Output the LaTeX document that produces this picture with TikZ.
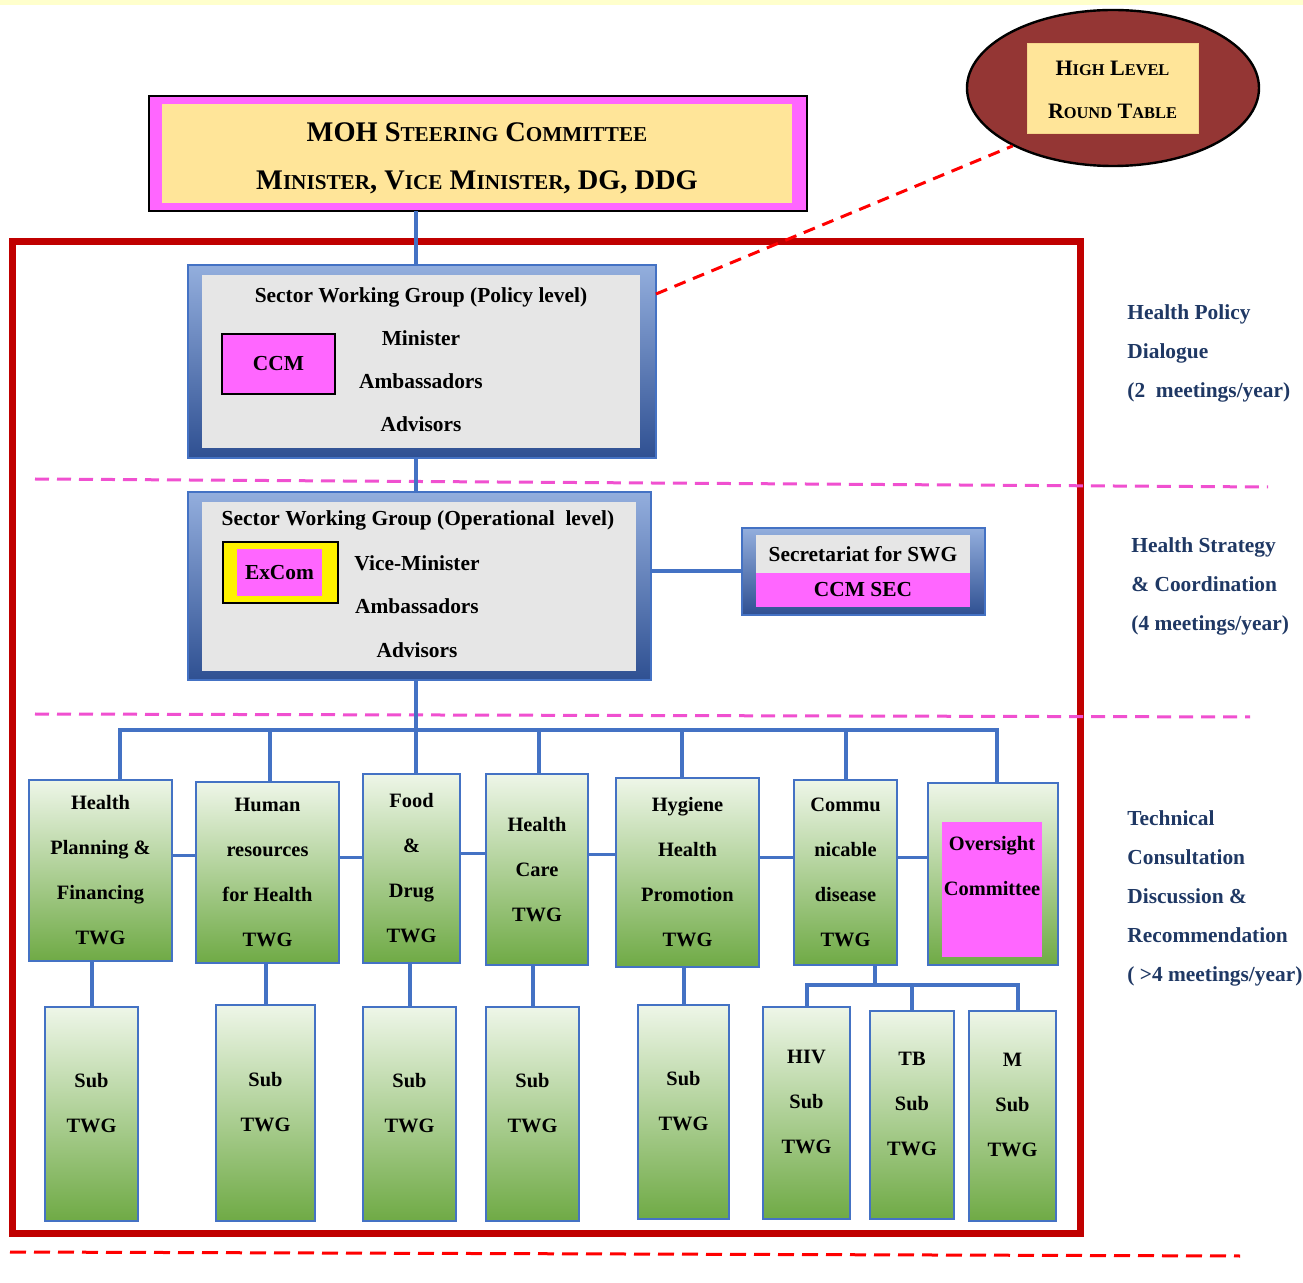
\documentclass[tikz,border=0pt]{standalone}
\usepackage{fontspec}
\setmainfont{Liberation Serif}
\usetikzlibrary{shapes.geometric}
\definecolor{bline}{HTML}{4472C4}
\definecolor{gtop}{HTML}{EEF6E8}
\definecolor{gbot}{HTML}{6FAA45}
\definecolor{swgtop}{HTML}{93AEDD}
\definecolor{swgbot}{HTML}{2F5092}
\definecolor{greyin}{HTML}{E6E6E6}
\definecolor{pinkf}{HTML}{FF66FF}
\definecolor{cream}{HTML}{FFE599}
\definecolor{maroon}{HTML}{943634}
\definecolor{redfr}{HTML}{C00000}
\definecolor{navy}{HTML}{1F3864}
\definecolor{magdash}{HTML}{F050D0}
\definecolor{strip}{HTML}{FFFFCC}
\newcommand{\boxfont}{\fontsize{10.7}{22.5}\selectfont\bfseries}
\newcommand{\twgfont}{\fontsize{10.2}{22.5}\selectfont\bfseries}
\newcommand{\fsc}[2]{#1{\fontsize{10.6}{11}\selectfont #2}}
\newcommand{\hsc}[2]{#1{\fontsize{8.2}{9}\selectfont #2}}

\begin{document}
\begin{tikzpicture}[x=0.5pt, y=-0.5pt,
    boxbase/.style ={inner sep=0pt, outer sep=0pt, anchor=north west},
    txt/.style ={inner sep=0pt, align=center, font=\boxfont},
    swgframe/.style ={boxbase, draw=bline, line width=0.8pt, top color=swgtop, bottom color=swgbot},
    swgin/.style ={boxbase, fill=greyin},
    twgbox/.style ={boxbase, draw=bline, line width=1.2pt, top color=gtop, bottom color=gbot, align=center, font=\twgfont},
    subbox/.style ={boxbase, draw=bline, line width=1.2pt, top color=gtop, bottom color=gbot},
    conn/.style ={bline, line width=2pt},
    sidetext/.style ={inner sep=0pt, anchor=west, align=left, text=navy, font=\fontsize{10.7}{19.5}\selectfont\bfseries}]
   \useasboundingbox (0,0) rectangle (1303,1283);
   \fill[strip] (0,0) rectangle (1303,5);
   \draw[redfr, line width=3.5pt] (12,242) rectangle (1080,1233);
   \draw[magdash, line width=1.5pt, dash pattern=on 7pt off 4pt] (35,479) -- (1268,487);
   \draw[magdash, line width=1.5pt, dash pattern=on 7pt off 4pt] (35,714) -- (1250,717);
   \draw[red, line width=1.5pt, dash pattern=on 8pt off 4pt] (10,1252) -- (1240,1256);

   \node[ellipse, draw=black, line width=1.2pt, fill=maroon, minimum width=146pt, minimum height=78pt, inner sep=0pt] (HL) at (1113,88) {};
   \node[boxbase, fill=cream, draw=cream!85!brown, minimum width=85.5pt, minimum height=45pt] (HLin) at (1027,43) {};
   \node[txt, font=\fontsize{11}{21.5}\selectfont\bfseries] (HLt) at ([yshift=-1pt]HLin.center) {\hsc{H}{IGH} \hsc{L}{EVEL}\\\hsc{R}{OUND} \hsc{T}{ABLE}};

   \node[boxbase, draw=black, line width=1pt, fill=pinkf, minimum width=329pt, minimum height=57.5pt] (M) at (149,96) {};
   \node[boxbase, fill=cream, minimum width=315pt, minimum height=49.5pt] (Min) at (162,104) {};
   \node[txt, font=\fontsize{14.2}{24}\selectfont\bfseries] (Mt) at ([yshift=-2.5pt]Min.center) {MOH \fsc{S}{TEERING} \fsc{C}{OMMITTEE}\\\fsc{M}{INISTER}, \fsc{V}{ICE} \fsc{M}{INISTER}, DG, DDG};

   \node[swgframe, minimum width=234pt, minimum height=96.5pt] (P) at (188,265) {};
   \node[swgin, minimum width=219pt, minimum height=86.5pt] (Pin) at (202,275) {};
   \node[txt] (Pt) at (421,297) {Sector Working Group (Policy level)};
   \node[boxbase, draw=black, line width=0.8pt, fill=pinkf, minimum width=56.5pt, minimum height=30pt, font=\boxfont] (CCM) at (222,334) {CCM};
   \node[txt, font=\fontsize{10.7}{21.5}\selectfont\bfseries] (Pm) at (421,381) {Minister\\Ambassadors\\Advisors};

   \node[swgframe, minimum width=231.5pt, minimum height=94pt] (O) at (188,492) {};
   \node[swgin, minimum width=217pt, minimum height=84.5pt] (Oin) at (202,502) {};
   \node[txt] (Ot) at (418,520) {Sector Working Group (Operational\ \ level)};
   \node[boxbase, draw=black, line width=0.8pt, fill=yellow, minimum width=57.5pt, minimum height=30.5pt] (EX) at (223,542) {};
   \node[boxbase, fill=pinkf, minimum width=42.5pt, minimum height=23.5pt] (EXin) at (237,549) {};
   \node[txt] (EXt) at (EXin.center) {ExCom};
   \node[txt, font=\fontsize{10.7}{21.75}\selectfont\bfseries] (Om) at (417,606.5) {Vice-Minister\\Ambassadors\\Advisors};

   \node[swgframe, minimum width=121.5pt, minimum height=43.5pt] (SEC) at (742,528) {};
   \node[boxbase, fill=greyin, minimum width=107pt, minimum height=19pt, font=\boxfont] (SECa) at (756,535) {Secretariat for SWG};
   \node[boxbase, fill=pinkf, minimum width=107pt, minimum height=17pt, font=\boxfont] (SECb) at (756,573) {CCM SEC};

   \node[twgbox, minimum width=71.5pt, minimum height=90.5pt] (T1) at (29,780) {Health\\Planning \&\\Financing\\TWG};
   \node[twgbox, minimum width=71.5pt, minimum height=90.5pt] (T2) at (196,782) {Human\\resources\\for Health\\TWG};
   \node[twgbox, minimum width=48.5pt, minimum height=94.5pt] (T3) at (363,774) {Food\\\&\\Drug\\TWG};
   \node[twgbox, minimum width=51pt, minimum height=95.5pt] (T4) at (486,774) {Health\\Care\\TWG};
   \node[twgbox, minimum width=71.5pt, minimum height=94.5pt] (T5) at (616,778) {Hygiene\\Health\\Promotion\\TWG};
   \node[twgbox, minimum width=51.5pt, minimum height=92.5pt] (T6) at (794,780) {Commu\\nicable\\disease\\TWG};
   \node[twgbox, minimum width=65pt, minimum height=91pt] (T7) at (928,783) {};
   \node[boxbase, fill=pinkf, minimum width=50pt, minimum height=67.5pt] (OC) at (942,822) {};
   \node[txt, font=\twgfont] (OCt) at (992,866.5) {Oversight\\Committee};

   \foreach \n/\x/\y/\w/\h in {S1/45/1007/46.5/107, S2/216/1005/49.5/108, S3/363/1007/46.5/107, S4/486/1007/46.5/107,
       S5/638/1005/45.5/107, S6/763/1007/43.5/106, S7/870/1011/42/104, S8/969/1011/43.5/105}
      \node[subbox, minimum width=\w pt, minimum height=\h pt] (\n) at (\x,\y) {};
   \foreach \n/\t in {S1/{Sub\\TWG}, S2/{Sub\\TWG}, S3/{Sub\\TWG}, S4/{Sub\\TWG}, S5/{Sub\\TWG},
       S6/{HIV\\Sub\\TWG}, S7/{TB\\Sub\\TWG}, S8/{M\\Sub\\TWG}}
      \node[txt, font=\twgfont] (\n t) at ([yshift=5.5pt]\n.center) {\t};

   \coordinate (trunk) at (416,730);
   \coordinate (cbus) at (875,985);
   \draw[conn] (trunk |- M.south) -- (trunk |- P.north);
   \draw[conn] (trunk |- P.south) -- (trunk |- O.north);
   \draw[conn] (trunk |- O.south) -- (trunk);
   \draw[conn] (SEC.west -| O.east) -- (SEC.west);
   \draw[conn] ([xshift=9.75pt]T1.north) |- (trunk);
   \draw[conn] ([xshift=2pt]T7.north) |- (trunk);
   \foreach \t/\s in {T2/1.25,T3/2.25,T4/1,T5/-2.75,T6/0}
      \draw[conn] ([xshift=\s pt]\t.north) -- ([xshift=\s pt]\t.north |- trunk);
   \foreach \a/\b in {T1/T2,T2/T3,T3/T4,T4/T5,T5/T6,T6/T7}
      \draw[conn, line width=1.6pt] ([yshift=7.5pt]\a.east) -- ([yshift=7.5pt]\a.east -| \b.west);
   \foreach \s/\t in {S1/T1,S2/T2,S3/T3,S4/T4,S5/T5}
      \draw[conn] (\s.north) -- (\s.north |- \t.south);
   \draw[conn] ([xshift=14.75pt]T6.south) -- (cbus);
   \draw[conn] (S6.north) |- (cbus);
   \draw[conn] ([xshift=2.75pt]S8.north) |- (cbus);
   \draw[conn] (S7.north) -- (S7.north |- cbus);
   \draw[red, line width=1.5pt, dash pattern=on 6pt off 4pt] ([yshift=-14.5pt]P.north east) -- (HL.210);

   \node[sidetext] (D1) at (1127,353) {Health Policy\\Dialogue\\(2\ \ meetings/year)};
   \node[sidetext] (D2) at (1131,586) {Health Strategy\\\& Coordination\\(4 meetings/year)};
   \node[sidetext] (D3) at (1127,898.5) {Technical\\Consultation\\Discussion \&\\Recommendation\\( >4 meetings/year)};
 \end{tikzpicture}
\end{document}
